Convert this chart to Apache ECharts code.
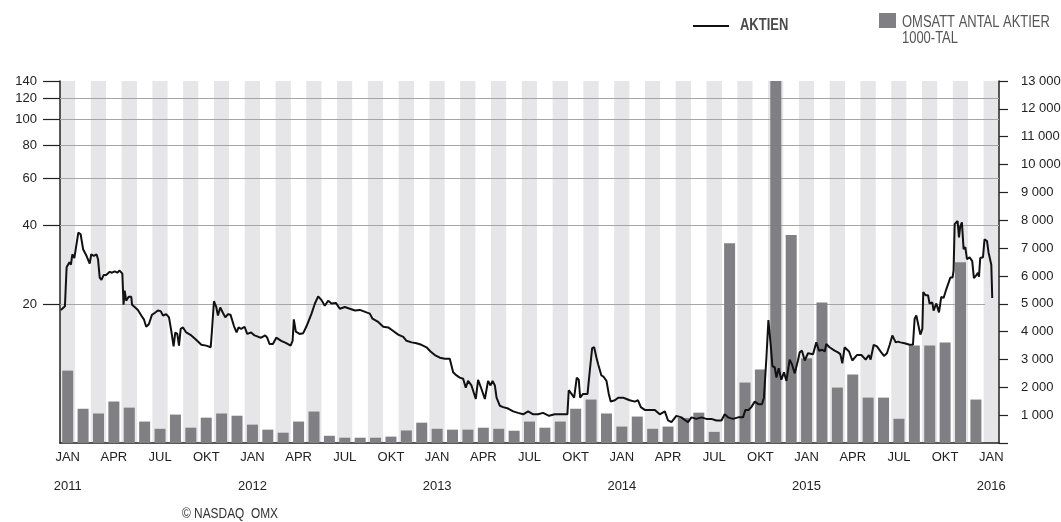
<!DOCTYPE html>
<html>
<head>
<meta charset="utf-8">
<script src="https://cdn.jsdelivr.net/npm/echarts@6/dist/echarts.min.js"></script>
<style>
  html, body { margin: 0; padding: 0; background: #fff; }
  #chart { width: 1061px; height: 522px; }
</style>
</head>
<body>
<div id="chart"></div>
<script>
// månader jan 2011 - jan 2016
const manader = [
  '2011-01','2011-02','2011-03','2011-04','2011-05','2011-06','2011-07','2011-08','2011-09','2011-10','2011-11','2011-12',
  '2012-01','2012-02','2012-03','2012-04','2012-05','2012-06','2012-07','2012-08','2012-09','2012-10','2012-11','2012-12',
  '2013-01','2013-02','2013-03','2013-04','2013-05','2013-06','2013-07','2013-08','2013-09','2013-10','2013-11','2013-12',
  '2014-01','2014-02','2014-03','2014-04','2014-05','2014-06','2014-07','2014-08','2014-09','2014-10','2014-11','2014-12',
  '2015-01','2015-02','2015-03','2015-04','2015-05','2015-06','2015-07','2015-08','2015-09','2015-10','2015-11','2015-12',
  '2016-01'
];
const manadsNamn = ['JAN','FEB','MAR','APR','MAJ','JUN','JUL','AUG','SEP','OKT','NOV','DEC'];

// omsatt antal aktier, 1000-tal per månad
const omsattning = [
  2600, 1230, 1060, 1490, 1270, 770, 510, 1020, 550, 910, 1060, 980,
  660, 480, 370, 770, 1130, 260, 190, 190, 190, 230, 450, 730,
  510, 480, 480, 550, 510, 440, 770, 550, 770, 1230, 1560, 1060,
  590, 950, 510, 590, 900, 1090, 400, 7170, 2170, 2640, 13000, 7470,
  3040, 5050, 1990, 2460, 1630, 1630, 870, 3500, 3500, 3610, 6490, 1560,
  null
];

// aktiekursen: tid i månader från 1 jan 2011, kurs i kr
const kursTid = [
  0.06,0.32,0.43,0.52,0.61,0.71,0.8,0.93,1.0,1.19,1.34,1.5,1.72,1.82,1.93,2.03,2.2,2.37,2.47,2.58,
  2.69,2.84,3.0,3.23,3.38,3.55,3.72,3.87,4.05,4.13,4.2,4.3,4.46,4.63,4.68,4.85,5.06,5.28,5.45,5.6,
  5.78,5.97,6.15,6.36,6.54,6.69,6.9,7.08,7.23,7.38,7.49,7.62,7.73,7.84,7.99,8.2,8.53,8.86,9.18,9.5,
  9.79,9.87,10.0,10.15,10.26,10.41,10.59,10.74,10.91,11.08,11.3,11.47,11.6,11.77,11.99,12.16,12.42,12.64,12.9,13.07,
  13.33,13.46,13.61,13.83,14.05,14.37,14.7,14.98,15.11,15.19,15.32,15.56,15.8,16.02,16.34,16.56,16.77,16.99,17.2,17.42,
  17.64,17.92,18.18,18.5,18.83,19.16,19.48,19.91,20.13,20.3,20.67,21.0,21.32,21.65,21.97,22.3,22.51,22.84,23.16,23.48,
  23.81,24.07,24.35,24.68,25.0,25.32,25.54,25.76,25.97,26.19,26.36,26.51,26.73,27.01,27.16,27.38,27.6,27.81,27.97,28.1,
  28.25,28.36,28.57,28.79,29.11,29.44,29.76,30.09,30.41,30.74,31.06,31.38,31.77,32.14,32.47,32.79,32.96,33.05,33.23,33.4,
  33.57,33.7,33.79,33.98,34.27,34.42,34.57,34.7,34.85,34.96,35.07,35.17,35.3,35.5,35.65,35.78,36.04,36.26,36.58,36.8,
  37.01,37.34,37.55,37.73,37.99,38.31,38.64,38.96,39.29,39.5,39.72,40.04,40.37,40.63,40.8,41.02,41.34,41.67,41.99,42.32,
  42.64,42.97,43.18,43.4,43.72,44.05,44.37,44.52,44.74,44.91,45.13,45.39,45.6,45.73,45.89,46.02,46.17,46.28,46.43,46.54,
  46.69,46.86,47.03,47.19,47.4,47.55,47.73,47.94,48.05,48.2,48.38,48.59,48.92,49.13,49.31,49.52,49.68,49.78,49.99,50.32,
  50.54,50.69,50.82,50.97,51.26,51.47,51.77,52.06,52.34,52.55,52.66,52.86,53.07,53.35,53.53,53.72,53.9,54.07,54.29,54.44,
  54.59,54.87,55.19,55.41,55.52,55.63,55.74,55.89,56.02,56.08,56.23,56.39,56.49,56.67,56.75,56.93,57.1,57.25,57.4,57.58,
  57.7,57.84,57.98,58.05,58.12,58.22,58.31,58.4,58.48,58.59,58.7,58.81,58.92,59.09,59.26,59.37,59.52,59.63,59.7,59.78,
  59.96,60.06,60.22,60.32,60.5,60.56
];
const kurs = [
  19.1,19.7,27.7,27.5,28.9,28.3,31.0,30.0,30.1,37.4,36.9,32.4,30.6,30.1,28.6,31.0,30.6,31.0,29.7,25.3,
  24.8,25.9,25.9,26.6,26.4,26.7,26.4,26.9,26.2,20.0,22.6,20.7,21.4,21.4,20.0,19.6,19.1,18.2,17.6,16.5,
  16.9,18.3,18.6,19.0,18.9,18.2,18.4,17.9,15.9,13.9,15.7,15.5,14.0,16.2,16.4,15.7,15.3,14.7,14.1,14.0,
  13.8,15.9,20.6,19.6,18.2,19.5,18.6,17.9,18.4,18.3,16.6,15.7,16.4,16.2,16.5,15.5,15.7,15.3,15.1,15.0,
  15.3,15.0,14.2,14.2,15.0,14.6,14.3,14.0,14.6,17.6,15.8,15.5,15.6,16.6,18.5,20.2,21.5,20.8,19.8,20.7,
  20.2,20.3,19.3,19.6,19.3,19.0,19.1,18.7,18.5,17.7,17.2,16.5,16.4,15.9,15.4,15.1,14.6,14.4,14.3,14.1,
  13.8,13.3,12.9,12.6,12.5,12.5,11.1,10.8,10.6,10.5,9.7,10.3,9.9,8.8,10.4,9.6,8.8,10.3,9.9,10.3,
  9.9,8.9,8.3,8.2,8.1,7.9,7.8,7.7,7.9,7.7,7.7,7.8,7.6,7.7,7.7,7.7,7.7,9.5,9.2,8.9,
  10.6,10.4,8.9,9.2,9.2,11.3,13.7,13.8,12.6,11.9,11.8,10.8,10.7,10.3,9.2,8.6,8.7,8.9,8.9,8.8,
  8.7,8.6,8.7,8.2,8.0,8.0,8.0,7.7,7.9,7.3,7.2,7.6,7.5,7.3,7.2,7.5,7.4,7.5,7.4,7.4,
  7.3,7.3,7.7,7.5,7.4,7.5,7.5,8.0,8.0,8.2,8.6,8.4,8.4,8.9,12.6,17.5,14.1,11.7,11.6,10.6,
  11.5,10.4,11.1,10.3,12.4,11.9,11.0,12.3,13.2,13.4,12.3,13.1,13.0,14.4,13.4,13.5,13.3,14.2,13.8,13.4,
  13.2,13.0,12.0,13.8,13.3,12.3,12.9,12.9,12.4,12.9,12.4,14.1,13.9,13.2,12.8,13.1,14.1,15.3,14.4,14.5,
  14.4,14.3,14.1,14.1,17.7,18.2,18.0,15.4,16.2,22.3,21.7,21.7,20.2,20.4,19.0,20.2,18.7,21.4,21.2,22.9,
  22.6,25.3,25.3,26.9,40.3,39.7,41.4,35.9,39.4,40.9,32.4,33.0,29.7,30.2,29.2,25.2,25.8,26.4,25.5,30.0,
  30.2,35.3,34.8,31.5,28.3,21.2
];

const kursSkala = [20, 40, 60, 80, 100, 120, 140];
const stodlinjer = [40, 60, 80, 100, 120];

const FONT = "'Liberation Sans', Arial, sans-serif";

const chart = echarts.init(document.getElementById('chart'), null, { renderer: 'canvas' });

const tusental = v => String(v).replace(/\B(?=(\d{3})+(?!\d))/g, ' ');

const option = {
  animation: false,
  backgroundColor: '#fff',
  textStyle: { fontFamily: FONT },
  grid: { left: 60, right: 62, top: 81, bottom: 79, containLabel: false, outerBoundsMode: 'none' },
  xAxis: [
    {
      type: 'category',
      data: manader,
      boundaryGap: true,
      axisLine: { lineStyle: { color: '#222', width: 1.5 } },
      axisTick: { show: false },
      splitArea: {
        show: true,
        interval: 0,
        areaStyle: { color: ['#e6e6e8', '#ffffff'] }
      },
      axisLabel: {
        interval: 2,
        margin: 6,
        fontFamily: FONT,
        formatter: function (val) {
          const [ar, mn] = val.split('-');
          const namn = manadsNamn[parseInt(mn, 10) - 1];
          return mn === '01' ? `{m|${namn}}\n{y|${ar}}` : `{m|${namn}}`;
        },
        rich: {
          m: { fontSize: 13, color: '#222', lineHeight: 16, fontFamily: FONT },
          y: { fontSize: 13, color: '#222', lineHeight: 42, fontFamily: FONT }
        }
      }
    },
    {
      type: 'value',
      min: 0,
      max: 61,
      show: false
    }
  ],
  yAxis: [
    {
      type: 'log',
      logBase: 10,
      min: 6,
      max: 140,
      position: 'left',
      axisLine: { show: true, lineStyle: { color: '#222', width: 1.5 } },
      axisTick: {
        show: true,
        inside: false,
        length: 17,
        customValues: kursSkala,
        lineStyle: { color: '#222', width: 1.2 }
      },
      axisLabel: {
        customValues: kursSkala,
        margin: 23,
        fontSize: 13,
        color: '#222',
        fontFamily: FONT
      },
      splitLine: { show: false }
    },
    {
      type: 'value',
      min: 0,
      max: 13000,
      interval: 1000,
      position: 'right',
      axisLine: { show: true, lineStyle: { color: '#222', width: 1.5 } },
      axisTick: { show: true, inside: false, length: 9, lineStyle: { color: '#222', width: 1.2 } },
      axisLabel: {
        margin: 22,
        fontSize: 13,
        color: '#222',
        fontFamily: FONT,
        formatter: v => (v === 0 ? '' : tusental(v))
      },
      splitLine: { show: false }
    }
  ],
  series: [
    {
      // stödlinjer för kursskalan
      name: 'grid',
      type: 'line',
      xAxisIndex: 1,
      yAxisIndex: 0,
      data: [],
      silent: true,
      markLine: {
        z: 1,
        silent: true,
        symbol: 'none',
        label: { show: false },
        lineStyle: { color: '#a5a5a5', width: 1, type: 'solid' },
        data: stodlinjer.map(v => ({ yAxis: v })).concat([
          // 20-linjen slutar före sista månaden
          [{ coord: [0, 20] }, { coord: [60.1, 20] }]
        ])
      }
    },
    {
      name: 'OMSATT ANTAL AKTIER',
      type: 'bar',
      xAxisIndex: 0,
      yAxisIndex: 1,
      data: omsattning,
      barWidth: 11,
      z: 2,
      itemStyle: { color: '#808084' }
    },
    {
      name: 'AKTIEN',
      type: 'line',
      xAxisIndex: 1,
      yAxisIndex: 0,
      data: kursTid.map((t, i) => [t, kurs[i]]),
      showSymbol: false,
      symbol: 'none',
      z: 3,
      lineStyle: { color: '#111', width: 2 }
    }
  ],
  graphic: [
    { type: 'line', shape: { x1: 693, y1: 26, x2: 729, y2: 26 }, style: { stroke: '#111', lineWidth: 2 } },
    { type: 'text', x: 740, y: 26, scaleX: 0.81, style: { text: 'AKTIEN', font: `bold 16px ${FONT}`, fill: '#4a4a4a', verticalAlign: 'middle' } },
    { type: 'rect', shape: { x: 879, y: 13, width: 17, height: 15 }, style: { fill: '#808084' } },
    { type: 'text', x: 902, y: 15, scaleX: 0.81, style: { text: 'OMSATT ANTAL AKTIER\n1000-TAL', font: `16px ${FONT}`, fill: '#555', lineHeight: 16, verticalAlign: 'top' } },
    { type: 'text', x: 182, y: 514, scaleX: 0.85, style: { text: '© NASDAQ  OMX', font: `14px ${FONT}`, fill: '#333', verticalAlign: 'middle' } }
  ]
};

chart.setOption(option);
</script>
</body>
</html>
